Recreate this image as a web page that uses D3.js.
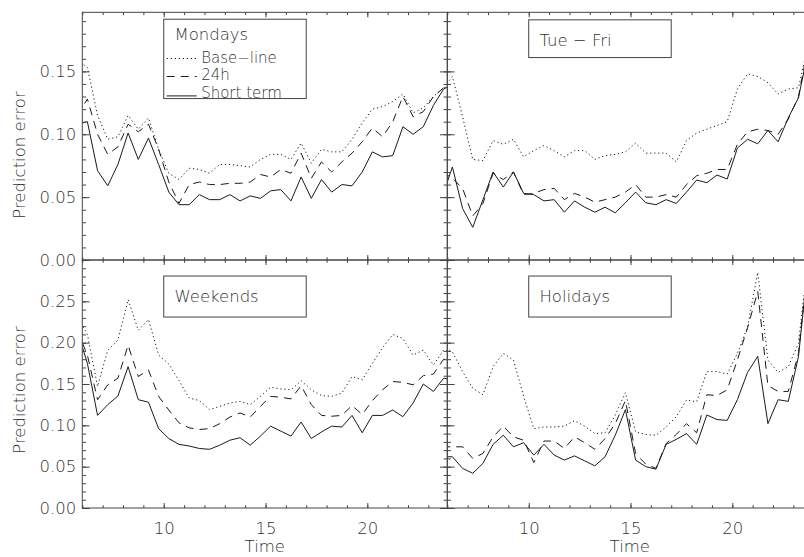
<!DOCTYPE html>
<html>
<head>
<meta charset="utf-8">
<script src="https://cdn.jsdelivr.net/npm/d3@7"></script>
<style>
  body { margin: 0; background: #fff; }
  svg text { font-family: "DejaVu Sans ExtraLight", "DejaVu Sans", sans-serif; font-weight: 200; font-size: 16.5px; fill: #333; }
  svg text.legend { font-size: 15px; }
</style>
</head>
<body>
<div class="container"></div>
<script>
  // half-hour time stamps (first and last fall outside the axis and get clipped)
  var hours = [5.75, 6.25, 6.75, 7.25, 7.75, 8.25, 8.75, 9.25, 9.75, 10.25, 10.75, 11.25, 11.75,
    12.25, 12.75, 13.25, 13.75, 14.25, 14.75, 15.25, 15.75, 16.25, 16.75, 17.25, 17.75, 18.25,
    18.75, 19.25, 19.75, 20.25, 20.75, 21.25, 21.75, 22.25, 22.75, 23.25, 23.75, 24.25];

  // Mondays
  var mondaysBase = [0.159, 0.153, 0.115, 0.096, 0.098, 0.115, 0.104, 0.113, 0.088, 0.069, 0.064, 0.073, 0.072,
    0.069, 0.076, 0.076, 0.075, 0.074, 0.080, 0.084, 0.084, 0.080, 0.093, 0.077, 0.088, 0.086,
    0.086, 0.096, 0.109, 0.120, 0.122, 0.126, 0.132, 0.117, 0.121, 0.130, 0.137, 0.140];
  var mondays24h = [0.115, 0.128, 0.100, 0.084, 0.090, 0.108, 0.102, 0.108, 0.088, 0.062, 0.045, 0.060, 0.062,
    0.060, 0.060, 0.061, 0.061, 0.062, 0.068, 0.066, 0.072, 0.069, 0.085, 0.065, 0.078, 0.070,
    0.078, 0.085, 0.094, 0.105, 0.098, 0.110, 0.130, 0.114, 0.118, 0.130, 0.137, 0.140];
  var mondaysShort = [0.108, 0.110, 0.071, 0.059, 0.076, 0.101, 0.080, 0.097, 0.076, 0.054, 0.044, 0.044, 0.052,
    0.048, 0.048, 0.052, 0.047, 0.051, 0.049, 0.055, 0.056, 0.047, 0.066, 0.049, 0.064, 0.054,
    0.060, 0.059, 0.070, 0.086, 0.082, 0.083, 0.106, 0.100, 0.106, 0.123, 0.136, 0.140];

  // Tuesday - Friday
  var tueFriBase = [0.135, 0.146, 0.114, 0.080, 0.079, 0.095, 0.092, 0.096, 0.082, 0.087, 0.091, 0.087, 0.082,
    0.087, 0.087, 0.080, 0.083, 0.084, 0.086, 0.093, 0.085, 0.085, 0.085, 0.078, 0.095, 0.101,
    0.104, 0.107, 0.110, 0.136, 0.148, 0.146, 0.141, 0.132, 0.136, 0.137, 0.173, 0.180];
  var tueFri24h = [0.070, 0.065, 0.057, 0.035, 0.045, 0.069, 0.064, 0.070, 0.052, 0.053, 0.056, 0.057, 0.048,
    0.053, 0.050, 0.046, 0.048, 0.050, 0.054, 0.060, 0.050, 0.050, 0.052, 0.050, 0.060, 0.067,
    0.069, 0.072, 0.072, 0.092, 0.102, 0.104, 0.103, 0.100, 0.112, 0.130, 0.172, 0.180];
  var tueFriShort = [0.050, 0.074, 0.041, 0.026, 0.048, 0.070, 0.058, 0.070, 0.053, 0.052, 0.047, 0.048, 0.038,
    0.047, 0.042, 0.038, 0.042, 0.0375, 0.0455, 0.054, 0.0455, 0.044, 0.048, 0.045, 0.054, 0.0636,
    0.0615, 0.0676, 0.0644, 0.089, 0.096, 0.0924, 0.103, 0.094, 0.113, 0.129, 0.168, 0.175];

  // Weekends
  var weekendsBase = [0.232, 0.210, 0.147, 0.191, 0.203, 0.252, 0.215, 0.228, 0.185, 0.174, 0.154, 0.133, 0.130,
    0.119, 0.123, 0.127, 0.129, 0.125, 0.135, 0.146, 0.144, 0.143, 0.154, 0.143, 0.136, 0.135,
    0.139, 0.159, 0.155, 0.175, 0.194, 0.210, 0.205, 0.185, 0.191, 0.173, 0.191, 0.190];
  var weekends24h = [0.215, 0.185, 0.131, 0.149, 0.157, 0.197, 0.159, 0.167, 0.135, 0.1185, 0.103, 0.097, 0.095,
    0.096, 0.102, 0.110, 0.115, 0.110, 0.123, 0.135, 0.134, 0.132, 0.148, 0.125, 0.112, 0.111,
    0.112, 0.124, 0.113, 0.130, 0.143, 0.153, 0.152, 0.149, 0.160, 0.162, 0.180, 0.178];
  var weekendsShort = [0.215, 0.175, 0.112, 0.125, 0.1355, 0.171, 0.131, 0.128, 0.096, 0.084, 0.077, 0.075, 0.072,
    0.071, 0.076, 0.082, 0.085, 0.076, 0.087, 0.099, 0.093, 0.087, 0.104, 0.084, 0.092, 0.099,
    0.098, 0.112, 0.091, 0.112, 0.112, 0.1185, 0.1105, 0.127, 0.150, 0.141, 0.157, 0.155];

  // Holidays
  var holidaysBase = [0.195, 0.189, 0.165, 0.145, 0.137, 0.171, 0.187, 0.179, 0.135, 0.096, 0.098, 0.098, 0.099,
    0.1056, 0.099, 0.090, 0.091, 0.1125, 0.1395, 0.092, 0.089, 0.088, 0.098, 0.1105, 0.1306, 0.1286,
    0.165, 0.165, 0.162, 0.187, 0.219, 0.285, 0.179, 0.164, 0.171, 0.199, 0.307, 0.310];
  var holidays24h = [0.074, 0.074, 0.074, 0.060, 0.066, 0.086, 0.099, 0.086, 0.082, 0.055, 0.081, 0.081, 0.072,
    0.086, 0.079, 0.071, 0.084, 0.102, 0.130, 0.066, 0.053, 0.048, 0.078, 0.089, 0.102, 0.091,
    0.137, 0.136, 0.143, 0.179, 0.218, 0.262, 0.148, 0.141, 0.141, 0.187, 0.304, 0.310];
  var holidaysShort = [0.062, 0.062, 0.048, 0.042, 0.054, 0.077, 0.088, 0.074, 0.079, 0.064, 0.077, 0.064, 0.058,
    0.063, 0.057, 0.051, 0.062, 0.088, 0.119, 0.058, 0.050, 0.047, 0.077, 0.083, 0.090, 0.077,
    0.1125, 0.107, 0.106, 0.131, 0.164, 0.1835, 0.102, 0.131, 0.129, 0.183, 0.303, 0.310];

  var panelNames = ["Mondays", "Tue \u2212 Fri", "Weekends", "Holidays"];
  var legendNames = ["Base\u2212line", "24h", "Short term"];
  var xTickValues = [10, 15, 20];
  var yTicksTop = [0.00, 0.05, 0.10, 0.15];
  var yTicksBottom = [0.00, 0.05, 0.10, 0.15, 0.20, 0.25];

  // Frame attributes
  var w = 804;
  var h = 557;
  var svg = d3.select(".container").append("svg").attr("width", w).attr("height", h);

  var panelW = 365;
  var colX = [82.3, 447.3];
  var rowY = [[12.3, 260], [260, 508]];
  var yMax = [0.197, 0.30];
  var dashes = ["1.2,2.8", "8,6", null];
  var axisColor = "#444";

  var panels = [
    {col: 0, row: 0, series: [mondaysBase, mondays24h, mondaysShort], box: [0.1915, 0.1284], legend: true},
    {col: 1, row: 0, series: [tueFriBase, tueFri24h, tueFriShort], box: [0.1910, 0.1610]},
    {col: 0, row: 1, series: [weekendsBase, weekends24h, weekendsShort], box: [0.2806, 0.2310]},
    {col: 1, row: 1, series: [holidaysBase, holidays24h, holidaysShort], box: [0.2806, 0.2310]}
  ];

  var line = d3.line();

  panels.forEach(function(p, i) {
    var x = d3.scaleLinear().domain([6, 23.93]).range([colX[p.col], colX[p.col] + panelW]);
    var y = d3.scaleLinear().domain([0, yMax[p.row]]).range([rowY[p.row][1], rowY[p.row][0]]);
    var g = svg.append("g");

    //clip the data to the frame
    svg.append("clipPath").attr("id", "clip" + i)
      .append("rect")
      .attr("x", x.range()[0]).attr("y", y.range()[1])
      .attr("width", panelW).attr("height", y.range()[0] - y.range()[1]);

    p.series.forEach(function(vals, s) {
      line.x(function(d, k) { return x(hours[k]); }).y(function(d) { return y(d); });
      g.append("path")
        .attr("clip-path", "url(#clip" + i + ")")
        .attr("d", line(vals))
        .attr("fill", "none")
        .attr("stroke", "#1a1a1a")
        .attr("stroke-width", 1)
        .attr("stroke-dasharray", dashes[s]);
    });

    //ticks on all four sides, pointing inward
    var yTicks = p.row == 0 ? yTicksTop : yTicksBottom;
    var yMinor = d3.range(0, 31).map(function(k) { return k / 100; }).filter(function(v) { return v <= yMax[p.row]; });
    var xMinor = d3.range(6, 24);

    function tidy(sel) {
      sel.select(".domain").remove();
      sel.selectAll(".tick line").attr("stroke", axisColor);
    }

    g.append("g").attr("transform", "translate(" + x.range()[0] + ",0)")
      .call(d3.axisLeft(y).tickValues(yMinor).tickSize(-3.7).tickFormat("")).call(tidy);
    g.append("g").attr("transform", "translate(" + x.range()[0] + ",0)")
      .call(d3.axisLeft(y).tickValues(yTicks).tickSize(-7.3).tickPadding(6)
        .tickFormat(p.col == 0 ? d3.format(".2f") : "")).call(tidy);
    g.append("g").attr("transform", "translate(" + x.range()[1] + ",0)")
      .call(d3.axisRight(y).tickValues(yMinor).tickSize(-3.7).tickFormat("")).call(tidy);
    g.append("g").attr("transform", "translate(" + x.range()[1] + ",0)")
      .call(d3.axisRight(y).tickValues(yTicks).tickSize(-7.3).tickFormat("")).call(tidy);

    g.append("g").attr("transform", "translate(0," + y.range()[0] + ")")
      .call(d3.axisBottom(x).tickValues(xMinor).tickSize(-2.8).tickFormat("")).call(tidy);
    g.append("g").attr("transform", "translate(0," + y.range()[0] + ")")
      .call(d3.axisBottom(x).tickValues(xTickValues).tickSize(-5).tickPadding(14)
        .tickFormat(p.row == 1 ? d3.format("d") : "")).call(tidy);
    g.append("g").attr("transform", "translate(0," + y.range()[1] + ")")
      .call(d3.axisTop(x).tickValues(xMinor).tickSize(-2.8).tickFormat("")).call(tidy);
    g.append("g").attr("transform", "translate(0," + y.range()[1] + ")")
      .call(d3.axisTop(x).tickValues(xTickValues).tickSize(-5).tickFormat("")).call(tidy);

    g.selectAll(".tick text").attr("fill", "#333").attr("font-size", null).attr("font-family", null);

    //frame
    g.append("rect")
      .attr("x", x.range()[0]).attr("y", y.range()[1])
      .attr("width", panelW).attr("height", y.range()[0] - y.range()[1])
      .attr("fill", "none").attr("stroke", axisColor).attr("stroke-width", 1);

    //label box
    var bx = x(10), by = y(p.box[0]);
    g.append("rect")
      .attr("x", bx).attr("y", by)
      .attr("width", x(17) - x(10)).attr("height", y(p.box[1]) - by)
      .attr("fill", "#fff").attr("stroke", axisColor).attr("stroke-width", 1);
    g.append("text").attr("x", bx + 10.7).attr("y", by + (p.legend ? 20.7 : 25.8)).text(panelNames[i]);

    if (p.legend) {
      var lineDy = [39.3, 57.3, 76.7];
      var textDy = [43.5, 61, 78.5];
      legendNames.forEach(function(name, s) {
        g.append("line")
          .attr("x1", bx + 3).attr("x2", bx + 33)
          .attr("y1", by + lineDy[s]).attr("y2", by + lineDy[s])
          .attr("stroke", "#1a1a1a").attr("stroke-width", 1)
          .attr("stroke-dasharray", dashes[s]);
        g.append("text").attr("class", "legend")
          .attr("x", bx + 37.4).attr("y", by + textDy[s]).text(name);
      });
    }

    //axis titles
    if (p.col == 0) {
      var cy = p.row == 0 ? 155 : 390;
      g.append("text")
        .attr("transform", "translate(25," + cy + ") rotate(-90)")
        .attr("text-anchor", "middle")
        .text("Prediction error");
    }
    if (p.row == 1) {
      g.append("text")
        .attr("x", x.range()[0] + 182.5).attr("y", 552)
        .attr("text-anchor", "middle")
        .text("Time");
    }
  });
</script>
</body>
</html>
